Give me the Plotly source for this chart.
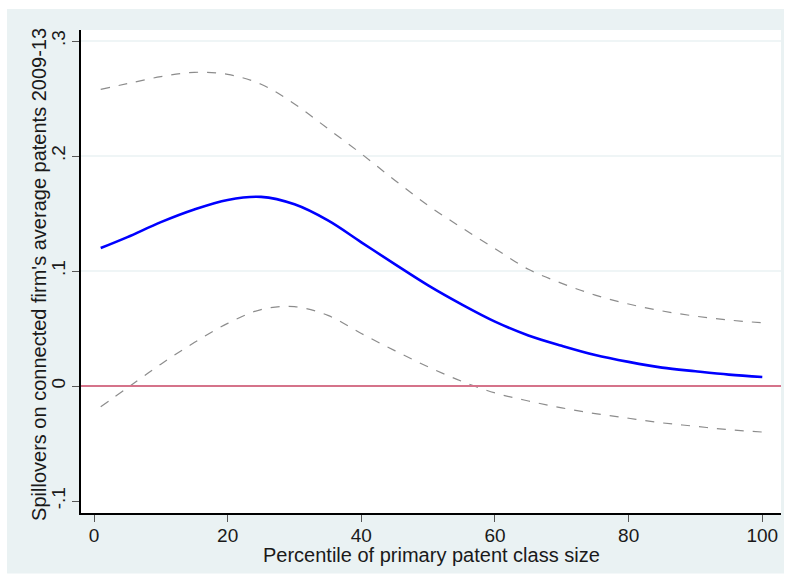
import plotly.graph_objects as go

# ---- data ----
pct = [1, 5, 10, 15, 20, 25, 30, 35, 40, 45, 50, 55, 60, 65, 70, 75, 80, 85, 90, 95, 100]
effect = [0.120, 0.1295, 0.1425, 0.1535, 0.1618, 0.1645, 0.158, 0.144, 0.125, 0.106, 0.0875,
          0.071, 0.056, 0.044, 0.035, 0.027, 0.021, 0.016, 0.0128, 0.0099, 0.0078]
upper = [0.258, 0.263, 0.269, 0.2728, 0.271, 0.2624, 0.2453, 0.2238, 0.2020, 0.179, 0.157,
         0.1378, 0.1195, 0.1015, 0.0893, 0.0791, 0.0713, 0.0653, 0.0608, 0.0574, 0.055]
lower = [-0.018, -0.0016, 0.019, 0.0378, 0.0545, 0.0665, 0.069, 0.0614, 0.0457, 0.0308, 0.0167,
         0.0042, -0.006, -0.013, -0.019, -0.024, -0.028, -0.032, -0.035, -0.038, -0.040]

x_ticks = [0, 20, 40, 60, 80, 100]
y_ticks = [-0.1, 0, 0.1, 0.2, 0.3]
y_ticktext = ["-.1", "0", ".1", ".2", ".3"]
grid_vals = [0.1, 0.2, 0.3]
ref_value = 0

x_title = "Percentile of primary patent class size"
y_title = "Spillovers on connected firm's average patents 2009-13"

BG = "#EAF2F3"
FONT = "Liberation Sans, Arial, sans-serif"

fig = go.Figure()

fig.add_trace(go.Scatter(x=pct, y=upper, mode="lines", line=dict(color="#8C8C8C", width=1.2, dash="dash", shape="spline"), hoverinfo="skip"))
fig.add_trace(go.Scatter(x=pct, y=lower, mode="lines", line=dict(color="#8C8C8C", width=1.2, dash="dash", shape="spline"), hoverinfo="skip"))
fig.add_trace(go.Scatter(x=pct, y=effect, mode="lines", line=dict(color="#0000FF", width=2.6, shape="spline")))

shapes = []
# outer background panel
shapes.append(dict(type="rect", xref="paper", yref="paper", x0=-0.1057, x1=1.0043, y0=-0.125, y1=1.0435,
                   fillcolor=BG, line=dict(width=0), layer="below"))
# plot region white
shapes.append(dict(type="rect", xref="paper", yref="paper", x0=0, x1=1, y0=0, y1=1,
                   fillcolor="white", line=dict(width=0), layer="below"))
for g in grid_vals:
    shapes.append(dict(type="line", xref="paper", yref="y", x0=0, x1=1, y0=g, y1=g,
                       line=dict(color=BG, width=1.6), layer="below"))
shapes.append(dict(type="line", xref="paper", yref="y", x0=0, x1=1, y0=ref_value, y1=ref_value,
                   line=dict(color="#D5738A", width=2), layer="above"))

annotations = [
    dict(text=x_title, xref="paper", yref="paper", x=0.5, y=-0.087, xanchor="center", yanchor="middle",
         showarrow=False, font=dict(size=20, family=FONT, color="#1a1a1a")),
    dict(text=y_title, xref="paper", yref="paper", x=-0.06, y=0.493, xanchor="center", yanchor="middle",
         textangle=-90, showarrow=False, font=dict(size=20, family=FONT, color="#1a1a1a")),
]

fig.update_layout(
    width=790, height=578,
    margin=dict(l=81, r=9, t=30, b=65),
    paper_bgcolor="white",
    plot_bgcolor="rgba(0,0,0,0)",
    showlegend=False,
    shapes=shapes,
    annotations=annotations,
    font=dict(family=FONT, color="#1a1a1a"),
    xaxis=dict(
        range=[-1.95, 102.8], tickvals=x_ticks, ticks="outside", ticklen=7, tickwidth=1.2,
        tickcolor="#555555", showgrid=False, zeroline=False, showline=True, linecolor="black",
        linewidth=1.5, tickfont=dict(size=19, family=FONT), ticklabelstandoff=-3,
    ),
    yaxis=dict(
        range=[-0.1104, 0.3096], tickvals=y_ticks, ticktext=y_ticktext, tickangle=-90,
        ticks="outside", ticklen=7, tickwidth=1.2, tickcolor="#555555", showgrid=False,
        zeroline=False, showline=True, linecolor="black", linewidth=1.5,
        tickfont=dict(size=19, family=FONT),
    ),
)

fig.write_html("out.html")
